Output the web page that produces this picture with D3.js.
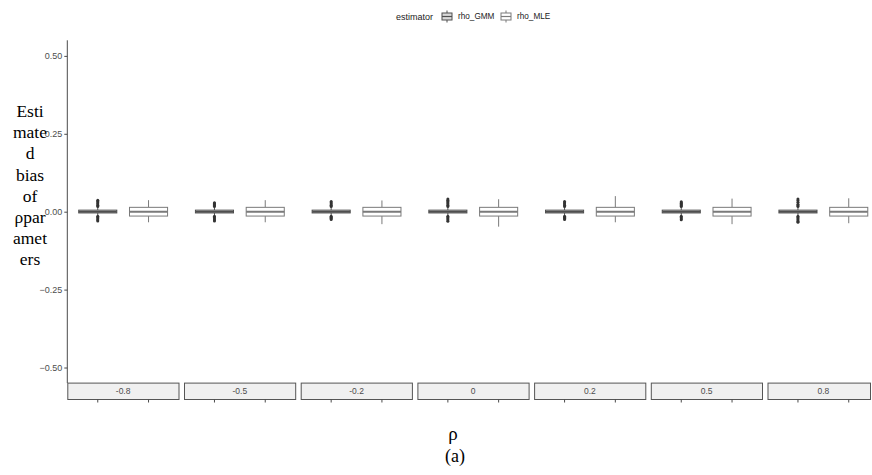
<!DOCTYPE html>
<html>
<head>
<meta charset="utf-8">
<script src="https://cdn.jsdelivr.net/npm/d3@7"></script>
<style>
  html, body { margin: 0; padding: 0; background: #fff; }
  svg { display: block; }
</style>
</head>
<body>
<svg id="chart" width="872" height="475"></svg>
<script>
// Facet levels of the true rho
const rhoLevels = ["-0.8", "-0.5", "-0.2", "0", "0.2", "0.5", "0.8"];
const estimators = ["rho_GMM", "rho_MLE"];
const yTicks = [-0.5, -0.25, 0, 0.25, 0.5];

// Box summaries per facet: [lower whisker, q1, median, q3, upper whisker]
const gmmStats = [
  [-0.012, -0.004, 0.000, 0.005, 0.013],
  [-0.012, -0.004, 0.000, 0.005, 0.013],
  [-0.012, -0.004, 0.000, 0.005, 0.013],
  [-0.012, -0.004, 0.000, 0.005, 0.013],
  [-0.012, -0.004, 0.000, 0.005, 0.013],
  [-0.012, -0.004, 0.000, 0.005, 0.013],
  [-0.012, -0.004, 0.000, 0.005, 0.013]
];
const mleStats = [
  [-0.034, -0.014, 0.000, 0.014, 0.037],
  [-0.034, -0.014, 0.000, 0.014, 0.037],
  [-0.040, -0.014, 0.000, 0.014, 0.036],
  [-0.048, -0.014, 0.000, 0.014, 0.040],
  [-0.034, -0.014, 0.000, 0.014, 0.050],
  [-0.040, -0.014, 0.000, 0.014, 0.042],
  [-0.037, -0.014, 0.000, 0.014, 0.043]
];
// GMM outliers per facet
const gmmOutliers = [
  [0.017, 0.021, 0.025, 0.029, 0.033, 0.037, -0.015, -0.019, -0.023, -0.027, -0.030],
  [0.017, 0.020, 0.023, 0.026, 0.029, -0.015, -0.019, -0.023, -0.027, -0.030],
  [0.017, 0.021, 0.025, 0.029, 0.033, -0.015, -0.018, -0.021, -0.025],
  [0.017, 0.021, 0.025, 0.029, 0.033, 0.037, 0.041, -0.015, -0.019, -0.023, -0.027, -0.031],
  [0.017, 0.021, 0.025, 0.029, 0.033, -0.015, -0.018, -0.021, -0.025],
  [0.017, 0.020, 0.023, 0.026, 0.029, 0.032, -0.015, -0.019, -0.023, -0.026],
  [0.017, 0.020, 0.024, 0.030, 0.036, 0.041, -0.015, -0.019, -0.023, -0.027, -0.031, -0.034]
];

const colours = { rho_GMM: "#4f4f4f", rho_MLE: "#7a7a7a" };
const statsBy = { rho_GMM: gmmStats, rho_MLE: mleStats };

const W = 872, H = 475;
const svg = d3.select("#chart");

const plotLeft = 67.3, pitch = 116.7, gap = 5;
const panelTop = 40.3, panelBottom = 383.1, stripH = 16.4;

const fx = d3.scaleBand()
  .domain(rhoLevels)
  .range([plotLeft, plotLeft + rhoLevels.length * pitch - gap])
  .paddingInner(gap / pitch)
  .paddingOuter(0);

const xInner = d3.scalePoint()
  .domain(estimators)
  .range([0, fx.bandwidth()])
  .padding(0.6);
const boxW = xInner.step() * 0.75;

const y = d3.scaleLinear().domain([-0.55, 0.55]).range([panelBottom, panelTop]);

// Y axis
const yAxis = svg.append("g")
  .attr("transform", `translate(${plotLeft},0)`)
  .call(d3.axisLeft(y).tickValues(yTicks).tickFormat(d3.format(".2f")).tickSize(3).tickPadding(2));
yAxis.select(".domain").attr("stroke", "#4a4a4a").attr("d", `M0,${panelTop}V${panelBottom}`);
yAxis.selectAll(".tick line").attr("stroke", "#4a4a4a");
yAxis.selectAll(".tick text")
  .attr("fill", "#4d4d4d")
  .attr("font-family", "Liberation Sans, Arial, sans-serif")
  .attr("font-size", "9px");

// Panels
rhoLevels.forEach((lvl, i) => {
  const g = svg.append("g").attr("transform", `translate(${fx(lvl)},0)`);
  estimators.forEach(est => {
    const s = statsBy[est][i];
    const cx = xInner(est);
    const col = colours[est];
    const bg = g.append("g");
    // whiskers
    bg.append("line").attr("x1", cx).attr("x2", cx).attr("y1", y(s[4])).attr("y2", y(s[3]))
      .attr("stroke", col).attr("stroke-width", 1);
    bg.append("line").attr("x1", cx).attr("x2", cx).attr("y1", y(s[1])).attr("y2", y(s[0]))
      .attr("stroke", col).attr("stroke-width", 1);
    // box
    bg.append("rect")
      .attr("x", cx - boxW / 2).attr("width", boxW)
      .attr("y", y(s[3])).attr("height", y(s[1]) - y(s[3]))
      .attr("fill", "#fff").attr("stroke", col).attr("stroke-width", 1);
    // median
    bg.append("line").attr("x1", cx - boxW / 2).attr("x2", cx + boxW / 2)
      .attr("y1", y(s[2])).attr("y2", y(s[2]))
      .attr("stroke", col).attr("stroke-width", 2);
    if (est === "rho_GMM") {
      bg.selectAll("circle.out").data(gmmOutliers[i]).enter().append("circle")
        .attr("class", "out")
        .attr("cx", cx).attr("cy", d => y(d)).attr("r", 1.5)
        .attr("fill", "#333");
    }
  });

  // strip below the panel, clipped at the right edge of the canvas
  const sx = fx(lvl);
  const sw = Math.min(fx.bandwidth(), W - 1.5 - sx);
  g.append("rect")
    .attr("x", 0.5).attr("y", panelBottom)
    .attr("width", sw - 0.5).attr("height", stripH)
    .attr("fill", "#f0f0f0").attr("stroke", "#555").attr("stroke-width", 1);
  g.append("text")
    .attr("x", fx.bandwidth() / 2).attr("y", panelBottom + stripH / 2)
    .attr("dy", "0.35em").attr("text-anchor", "middle")
    .attr("font-family", "Liberation Sans, Arial, sans-serif")
    .attr("font-size", "8.5px").attr("fill", "#4d4d4d")
    .text(lvl);

  // x ticks below the strip
  estimators.forEach(est => {
    g.append("line")
      .attr("x1", xInner(est)).attr("x2", xInner(est))
      .attr("y1", panelBottom + stripH).attr("y2", panelBottom + stripH + 3)
      .attr("stroke", "#4a4a4a");
  });
});

// Y axis title, wrapped
const yTitleLines = ["Esti", "mate", "d", "bias", "of", "ρpar", "amet", "ers"];
const yTitle = svg.append("text")
  .attr("font-family", "Liberation Serif, Times New Roman, serif")
  .attr("font-size", "17.5px").attr("fill", "#000")
  .attr("text-anchor", "middle");
yTitleLines.forEach((t, k) => {
  yTitle.append("tspan").attr("x", 30).attr("y", 117 + k * 21.2).text(t);
});

// X axis title and caption
svg.append("text")
  .attr("x", 453).attr("y", 440)
  .attr("text-anchor", "middle")
  .attr("font-family", "Liberation Serif, Times New Roman, serif")
  .attr("font-size", "19px").text("ρ");
svg.append("text")
  .attr("x", 455).attr("y", 462)
  .attr("text-anchor", "middle")
  .attr("font-family", "Liberation Serif, Times New Roman, serif")
  .attr("font-size", "18px").text("(a)");

// Legend
const legend = svg.append("g").attr("transform", "translate(0,16.5)");
legend.append("text")
  .attr("x", 396).attr("dy", "0.35em")
  .attr("font-family", "Liberation Sans, Arial, sans-serif")
  .attr("font-size", "9px").attr("fill", "#222")
  .text("estimator");
const keyX = { rho_GMM: 447, rho_MLE: 506 };
estimators.forEach(est => {
  const kx = keyX[est];
  const col = colours[est];
  const kg = legend.append("g").attr("transform", `translate(${kx},0)`);
  kg.append("line").attr("x1", 0).attr("x2", 0).attr("y1", -6).attr("y2", 6)
    .attr("stroke", col);
  kg.append("rect").attr("x", -5).attr("y", -3.5).attr("width", 10).attr("height", 7)
    .attr("fill", est === "rho_GMM" ? "#d9d9d9" : "#fff").attr("stroke", col);
  kg.append("line").attr("x1", -5).attr("x2", 5).attr("y1", 0).attr("y2", 0)
    .attr("stroke", col).attr("stroke-width", 1.2);
  legend.append("text")
    .attr("x", kx + 11).attr("dy", "0.35em")
    .attr("font-family", "Liberation Sans, Arial, sans-serif")
    .attr("font-size", "8.2px").attr("fill", "#222")
    .text(est);
});
</script>
</body>
</html>
